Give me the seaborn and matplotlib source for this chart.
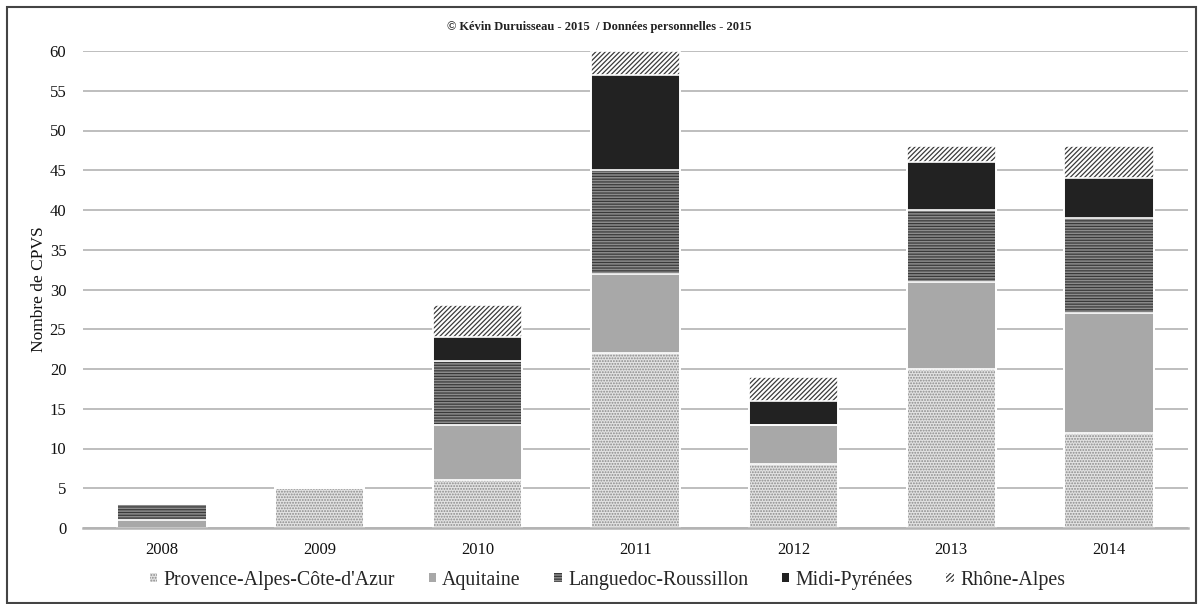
import matplotlib
matplotlib.use("Agg")
import matplotlib.pyplot as plt
from matplotlib.patches import Patch, Rectangle
import numpy as np
import pandas as pd
import seaborn as sns

years = ["2008", "2009", "2010", "2011", "2012", "2013", "2014"]
regions = ["Provence-Alpes-Côte-d'Azur", "Aquitaine", "Languedoc-Roussillon",
           "Midi-Pyrénées", "Rhône-Alpes"]
paca = [0, 5, 6, 22, 8, 20, 12]
aquitaine = [1, 0, 7, 10, 5, 11, 15]
languedoc = [2, 0, 8, 13, 0, 9, 12]
midi = [0, 0, 3, 12, 3, 6, 5]
rhone = [0, 0, 4, 3, 3, 2, 4]

series = [paca, aquitaine, languedoc, midi, rhone]
# (facecolor, hatch, hatch colour) for each region
styles = [
    ("#e2e2e2", "......", "#8a8a8a"),
    ("#a8a8a8", None, "#a8a8a8"),
    ("#8c8c8c", "------", "#3a3a3a"),
    ("#222222", None, "#222222"),
    ("#ffffff", "///////", "#3a3a3a"),
]

sns.set_theme(style="white")
plt.rcParams["font.family"] = ["Liberation Serif", "DejaVu Serif"]
plt.rcParams["hatch.linewidth"] = 0.9

df = pd.DataFrame({"year": years})
for name, vals in zip(regions, series):
    df[name] = vals
cum = df[regions].cumsum(axis=1)

fig = plt.figure(figsize=(11.98, 6.04), dpi=100)
ax = fig.add_axes([83 / 1198, 1 - 528 / 604, (1188 - 83) / 1198, (528 - 51) / 604])

# stacked bars: draw cumulative totals from the top layer downwards
for i in range(len(regions) - 1, -1, -1):
    fc, hatch, hc = styles[i]
    sns.barplot(data=cum, x=df["year"], y=cum[regions[i]], ax=ax,
                color=fc, saturation=1, width=0.565, hatch=hatch,
                edgecolor=hc, linewidth=0, zorder=2)
# thin white separators between segments
for i in range(len(regions) - 1, -1, -1):
    sns.barplot(data=cum, x=df["year"], y=cum[regions[i]], ax=ax,
                fill=False, width=0.565, edgecolor="white", linewidth=1.2,
                zorder=3)

ax.set_xlim(-0.5, 6.5)
ax.set_ylim(0, 60)
ax.set_yticks(range(0, 61, 5))
ax.yaxis.grid(True, color="#b3b3b3", linewidth=1.2, zorder=0)
ax.set_axisbelow(True)
for s in ["top", "right", "left"]:
    ax.spines[s].set_visible(False)
ax.spines["bottom"].set_color("#b3b3b3")
ax.spines["bottom"].set_linewidth(1.8)
ax.spines["bottom"].set_zorder(4)
ax.tick_params(axis="x", length=0, labelsize=12, colors="#111111", pad=10)
ax.tick_params(axis="y", length=0, labelsize=12, colors="#111111", pad=12)
ax.set_xlabel("")
ax.set_ylabel("Nombre de CPVS", fontsize=12.5, color="#111111", labelpad=2)

fig.text(0.5, 1 - 27 / 604,
         "© Kévin Duruisseau - 2015  / Données personnelles - 2015",
         ha="center", va="center", fontsize=9, fontweight="bold", color="#222222")

handles = [Patch(facecolor=fc, hatch=h, edgecolor=hc, linewidth=0)
           for fc, h, hc in styles]
fig.legend(handles, regions, loc="center", bbox_to_anchor=(0.507, 1 - 580 / 604),
           ncol=5, frameon=False, fontsize=14.3, handlelength=0.38,
           handleheight=0.38, handletextpad=0.3, columnspacing=1.7)

# outer frame
fig.patches.append(Rectangle((7 / 1198, 0.001), 1 - 7 / 1198 - 0.0015, 1 - 7 / 604 - 0.001,
                             transform=fig.transFigure, fill=False,
                             edgecolor="#444444", linewidth=1.5))

fig.savefig("out.png", dpi=100)
